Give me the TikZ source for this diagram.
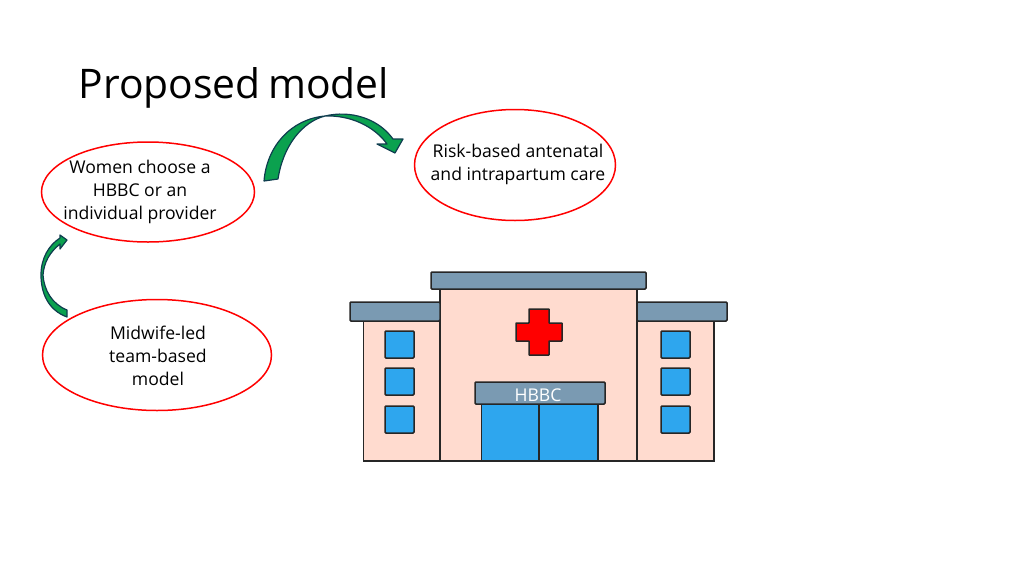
\documentclass[tikz,border=0pt]{standalone}
\usepackage{fontspec}
\setmainfont{Open Sans}
\usetikzlibrary{shapes.geometric}
\definecolor{wallcol}{HTML}{FFDBCF}
\definecolor{roofcol}{HTML}{7A9AB2}
\definecolor{glasscol}{HTML}{2EA6EE}
\definecolor{arrowcol}{HTML}{0BA14F}
\definecolor{arrowline}{HTML}{0F3D4F}
\tikzset{
	choice/.style={draw=red,line width=1.5pt,ellipse,inner sep=0pt},
	label/.style={align=center,inner sep=0pt,font=\fontsize{17.6}{23}\selectfont},
	wall/.style={draw=black!85,line width=1.5pt,fill=wallcol},
	roof/.style={draw=black!85,line width=1.5pt,fill=roofcol,rounded corners=1pt},
	glass/.style={draw=black!85,line width=1.5pt,fill=glasscol,rounded corners=1pt},
	bendarrow/.style={draw=arrowline,line width=1.2pt,fill=arrowcol,line join=round},
}
\begin{document}
\begin{tikzpicture}[x=1pt,y=-1pt]
\useasboundingbox (0,0) rectangle (1024,576);
\node[anchor=base west,inner sep=0pt,font=\fontsize{40.8}{46}\selectfont] (title) at (78.5,98.5) {Proposed\hspace{-3pt} model};
% ellipses
\node[choice,minimum width=201pt,minimum height=111pt] (risk) at (515,165) {};
\node[choice,minimum width=213pt,minimum height=100pt] (women) at (148,192) {};
\node[choice,minimum width=229pt,minimum height=111pt] (midwife) at (157,355) {};
\node[label] (risktext) at (518,164) {Risk-based antenatal\\and intrapartum care};
\node[label] (womentext) at (140,192) {Women choose a\\HBBC or an\\individual provider};
\node[label] (midwifetext) at (158,356) {Midwife-led\\team-based\\model};
% curved arrows
\draw[bendarrow] (264,181) .. controls (267,145) and (292,119) .. (325,116)
	.. controls (350,110) and (378,118) .. (393,139) -- (403,139) -- (395,153) -- (377,144) -- (387,144)
	.. controls (374,126) and (350,115) .. (325,116)
	.. controls (302,122) and (283,146) .. (278,179) -- cycle;
\draw[bendarrow] (67,317) .. controls (48,310) and (41,293) .. (41,275)
	.. controls (41,258) and (49,245) .. (60,238) -- (60,235) -- (67,240) -- (60,249) -- (60,244)
	.. controls (50,252) and (44,262) .. (43,275)
	.. controls (44,290) and (52,304) .. (67,310) -- cycle;
% building
\draw[wall] (363.5,320) rectangle (440,461);
\draw[wall] (637,320) rectangle (714,461);
\draw[wall] (440,289) rectangle (637,461);
\draw[roof] (440,302) -- (350,302) -- (350,321) -- (440,321) -- cycle;
\draw[roof] (637,302) -- (727,302) -- (727,321) -- (637,321) -- cycle;
\draw[roof] (431,272) rectangle (646,289);
\foreach \y in {331,368,406}{
	\draw[glass] (385,\y) rectangle ++(29,27);
	\draw[glass] (661,\y) rectangle ++(29,27);
}
\draw[glass,rounded corners=0pt] (481.5,404) rectangle (539,461);
\draw[glass,rounded corners=0pt] (539,404) rectangle (598,461);
\draw[roof] (475,382) rectangle (605,404);
\node[inner sep=0pt,text=white,font=\fontsize{17.6}{20}\selectfont] (hbbc) at (538,395.5) {HBBC};
\draw[draw=black!85,line width=1.5pt,fill=red,rounded corners=0.5pt] (529,309) -- (549,309) -- (549,323) -- (562,323) -- (562,341) -- (549,341) -- (549,355) -- (529,355) -- (529,341) -- (516,341) -- (516,323) -- (529,323) -- cycle;
\end{tikzpicture}
\end{document}
